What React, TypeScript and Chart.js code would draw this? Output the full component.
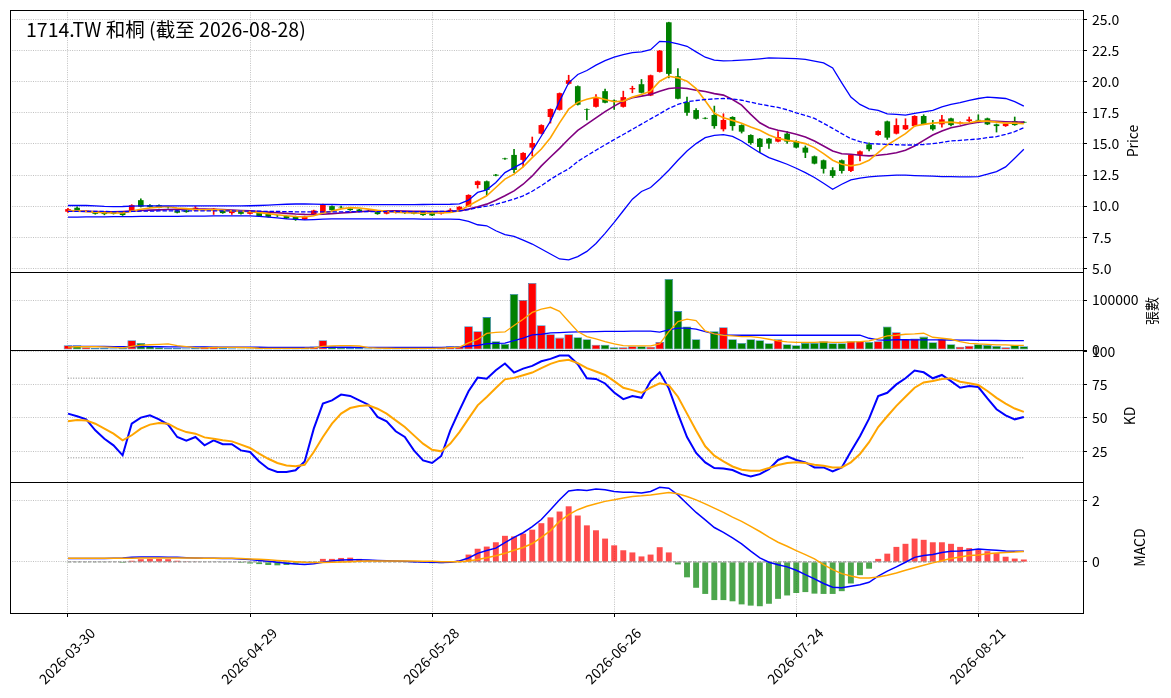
import React, { useEffect, useRef } from 'react';
import { Chart, registerables } from 'chart.js';

Chart.register(...registerables);

const FONT = "'Noto Sans CJK TC', 'Noto Sans', 'DejaVu Sans', sans-serif";
Chart.defaults.font.family = FONT;
Chart.defaults.font.size = 14;
Chart.defaults.color = '#000';

const W = 1171;
const H = 698;
const LEFT = 10;
const AXIS_W = 88;
const X_MIN = -6.37;
const X_MAX = 111.5;
const GRID = '#b0b0b0';
const RED = '#ff0000';
const GREEN = '#008000';

const TITLE = '1714.TW 和桐 (截至 2026-08-28)';
const TICK_INDEX = [0, 20, 40, 60, 80, 100];
const TICK_DATES = ['2026-03-30', '2026-04-29', '2026-05-28', '2026-06-26', '2026-07-24', '2026-08-21'];

const OPEN = [
  9.55, 9.87, 9.60, 9.55, 9.49, 9.52, 9.47, 9.60, 10.48, 10.08,
  10.08, 9.88, 9.65, 9.65, 9.65, 9.70, 9.65, 9.65, 9.44, 9.60,
  9.38, 9.47, 9.38, 9.22, 9.20, 9.17, 8.93, 9.33, 9.47, 10.00,
  9.94, 9.81, 9.73, 9.62, 9.52, 9.39, 9.50, 9.47, 9.52, 9.55,
  9.50, 9.38, 9.50, 9.70, 9.97, 11.70, 12.00, 12.53, 13.84, 14.12,
  13.72, 14.71, 15.83, 17.17, 17.75, 19.84, 19.65, 17.80, 17.99, 19.25,
  18.50, 17.99, 19.40, 19.81, 18.90, 20.80, 24.79, 20.45, 18.37, 17.73,
  17.10, 17.33, 16.18, 17.17, 16.52, 15.72, 15.43, 15.43, 15.19, 15.83,
  15.24, 14.71, 14.01, 13.69, 12.89, 13.69, 12.83, 14.12, 14.97, 15.72,
  16.82, 15.83, 16.18, 16.44, 17.25, 16.52, 16.58, 17.06, 16.66, 16.84,
  16.94, 17.06, 16.58, 16.44, 16.84, 16.78,
];
const HIGH = [
  9.82, 9.95, 9.66, 9.58, 9.52, 9.55, 9.50, 10.12, 10.59, 10.12,
  10.10, 9.92, 9.68, 9.67, 9.97, 9.74, 9.82, 9.68, 9.67, 9.62,
  9.62, 9.50, 9.40, 9.26, 9.22, 9.20, 9.19, 9.68, 10.16, 10.03,
  10.00, 9.84, 9.75, 9.66, 9.55, 9.57, 9.56, 9.50, 9.55, 9.58,
  9.52, 9.45, 9.80, 9.97, 10.92, 12.03, 12.03, 12.55, 13.86, 14.57,
  14.30, 15.56, 16.55, 17.83, 19.11, 20.53, 19.68, 17.82, 18.98, 19.41,
  18.55, 19.25, 19.65, 20.19, 20.55, 22.53, 24.80, 21.07, 18.77, 17.85,
  17.12, 18.05, 17.43, 17.20, 16.55, 15.75, 15.46, 15.46, 15.99, 15.99,
  15.27, 14.84, 14.04, 13.72, 13.10, 13.72, 14.15, 14.44, 15.10, 16.07,
  16.85, 17.03, 17.03, 17.28, 17.35, 16.90, 17.30, 17.09, 16.78, 17.17,
  17.35, 17.09, 16.61, 16.66, 17.17, 16.80,
];
const LOW = [
  9.50, 9.62, 9.56, 9.35, 9.30, 9.36, 9.25, 9.58, 9.93, 9.90,
  9.85, 9.83, 9.45, 9.50, 9.63, 9.66, 9.33, 9.42, 9.33, 9.36,
  9.36, 9.18, 9.12, 9.16, 8.99, 8.85, 8.91, 9.30, 9.45, 9.66,
  9.82, 9.66, 9.53, 9.55, 9.34, 9.37, 9.44, 9.40, 9.37, 9.26,
  9.23, 9.35, 9.48, 9.68, 9.95, 11.45, 10.90, 12.43, 13.76, 12.70,
  13.16, 14.04, 15.80, 16.68, 17.72, 19.80, 18.13, 16.93, 17.96, 18.30,
  17.78, 17.96, 19.12, 19.10, 18.88, 20.78, 20.32, 18.62, 17.30, 17.00,
  17.02, 16.26, 16.04, 16.10, 15.88, 14.97, 14.33, 14.65, 15.16, 15.05,
  14.68, 13.90, 13.39, 12.65, 12.30, 12.65, 12.78, 13.64, 14.44, 15.69,
  15.37, 15.80, 16.15, 16.41, 16.55, 16.10, 16.36, 16.45, 16.60, 16.80,
  16.72, 16.55, 15.96, 16.41, 16.50, 16.70,
];
const CLOSE = [
  9.76, 9.65, 9.63, 9.38, 9.36, 9.39, 9.28, 10.08, 9.95, 9.92,
  9.87, 9.86, 9.47, 9.52, 9.87, 9.72, 9.79, 9.44, 9.65, 9.38,
  9.60, 9.20, 9.14, 9.20, 9.01, 8.93, 9.17, 9.65, 10.13, 9.68,
  9.90, 9.68, 9.55, 9.60, 9.36, 9.55, 9.52, 9.45, 9.39, 9.28,
  9.25, 9.42, 9.70, 9.95, 10.90, 12.00, 11.30, 12.45, 13.78, 12.91,
  14.28, 15.08, 16.52, 17.81, 19.09, 20.13, 18.16, 17.75, 18.74, 18.32,
  18.42, 18.77, 19.50, 19.12, 20.53, 22.51, 20.64, 18.64, 17.51, 17.03,
  17.04, 16.44, 16.93, 16.44, 15.99, 15.08, 14.76, 15.03, 15.56, 15.19,
  14.71, 14.30, 13.42, 13.00, 12.43, 12.83, 14.12, 14.41, 14.57, 16.04,
  15.51, 16.52, 16.52, 17.25, 16.58, 16.18, 16.98, 16.52, 16.74, 16.98,
  16.88, 16.58, 16.44, 16.63, 16.52, 16.72,
];

const BB_UPPER = [
  10.05, 10.05, 10.05, 10.02, 9.98, 9.96, 9.97, 10.0, 10.02, 10.02,
  10.02, 10.02, 10.02, 10.02, 10.02, 10.02, 10.02, 10.02, 10.02, 10.02,
  10.03, 10.05, 10.08, 10.12, 10.15, 10.17, 10.17, 10.16, 10.14, 10.13,
  10.12, 10.12, 10.12, 10.12, 10.12, 10.12, 10.12, 10.12, 10.12, 10.13,
  10.14, 10.14, 10.15, 10.18, 10.48, 11.1, 11.31, 11.9, 12.7, 13.1,
  13.5, 14.44, 15.64, 16.84, 18.45, 19.92, 20.59, 20.91, 21.34, 21.71,
  21.98, 22.19, 22.35, 22.41, 22.59, 23.26, 23.21, 23.05, 22.86, 22.41,
  21.98, 21.75, 21.68, 21.7, 21.74, 21.79, 21.85, 21.92, 21.9, 21.88,
  21.87, 21.8, 21.66, 21.52, 21.12, 19.92, 18.77, 18.18, 17.83, 17.7,
  17.43, 17.38, 17.33, 17.46, 17.59, 17.7, 17.99, 18.18, 18.32, 18.5,
  18.66, 18.77, 18.72, 18.66, 18.4, 18.05,
];
const BB_MID = [
  9.57, 9.58, 9.58, 9.58, 9.57, 9.56, 9.56, 9.57, 9.59, 9.6,
  9.61, 9.62, 9.62, 9.62, 9.62, 9.62, 9.62, 9.61, 9.61, 9.6,
  9.6, 9.59, 9.58, 9.57, 9.56, 9.54, 9.53, 9.53, 9.53, 9.54,
  9.54, 9.55, 9.55, 9.55, 9.55, 9.55, 9.55, 9.55, 9.55, 9.56,
  9.56, 9.57, 9.58, 9.62, 9.72, 9.88, 10.0, 10.15, 10.35, 10.56,
  10.83, 11.2, 11.65, 12.15, 12.6, 13.0, 13.6, 14.05, 14.5, 14.93,
  15.35, 15.76, 16.18, 16.6, 17.02, 17.43, 17.86, 18.18, 18.4, 18.5,
  18.58, 18.63, 18.66, 18.62, 18.52, 18.36, 18.2, 18.07, 17.94, 17.75,
  17.51, 17.3, 17.06, 16.66, 16.26, 15.83, 15.43, 15.19, 15.03, 15.0,
  14.97, 14.94, 14.92, 14.92, 14.96, 15.03, 15.13, 15.24, 15.29, 15.35,
  15.4, 15.51, 15.59, 15.78, 15.99, 16.31,
];
const BB_LOWER = [
  9.12, 9.12, 9.13, 9.14, 9.14, 9.15, 9.16, 9.16, 9.17, 9.17,
  9.17, 9.18, 9.18, 9.19, 9.2, 9.2, 9.21, 9.21, 9.22, 9.22,
  9.22, 9.18, 9.12, 9.05, 8.98, 8.93, 8.9, 8.92, 8.95, 8.97,
  8.98, 8.98, 8.98, 8.98, 8.98, 8.98, 8.98, 8.97, 8.97, 8.96,
  8.96, 8.96, 8.96, 8.93, 8.77, 8.5, 8.42, 8.02, 7.7, 7.57,
  7.27, 6.95, 6.55, 6.15, 5.75, 5.67, 5.94, 6.36, 7.0, 7.81,
  8.69, 9.63, 10.56, 11.18, 11.5, 12.17, 12.89, 13.69, 14.44, 15.03,
  15.51, 15.7, 15.75, 15.61, 15.24, 14.76, 14.3, 13.9, 13.64, 13.37,
  13.05, 12.7, 12.3, 11.84, 11.36, 11.76, 12.11, 12.25, 12.35, 12.41,
  12.46, 12.49, 12.49, 12.46, 12.44, 12.41, 12.38, 12.38, 12.35, 12.35,
  12.38, 12.57, 12.78, 13.16, 13.85, 14.57,
];
const MA5 = [
  9.65, 9.62, 9.58, 9.52, 9.48, 9.45, 9.45, 9.6, 9.75, 9.85,
  9.92, 9.97, 9.85, 9.8, 9.72, 9.7, 9.72, 9.68, 9.62, 9.6,
  9.55, 9.48, 9.4, 9.3, 9.22, 9.16, 9.13, 9.22, 9.45, 9.6,
  9.78, 9.88, 9.85, 9.76, 9.66, 9.58, 9.52, 9.48, 9.45, 9.43,
  9.45, 9.45, 9.5, 9.62, 10.03, 10.43, 10.83, 11.5, 12.17, 12.57,
  13.16, 13.9, 14.6, 15.5, 16.7, 17.8, 18.35, 18.6, 18.77, 18.58,
  18.4, 18.45, 18.77, 18.98, 19.25, 20.05, 20.45, 20.32, 20.05, 19.45,
  18.48, 17.47, 17.11, 16.9, 16.66, 16.36, 16.1, 15.72, 15.45, 15.29,
  15.19, 15.03, 14.71, 14.22, 13.69, 13.37, 13.24, 13.37, 13.69, 14.3,
  14.92, 15.37, 15.83, 16.44, 16.58, 16.68, 16.74, 16.76, 16.68, 16.71,
  16.84, 16.84, 16.76, 16.68, 16.68, 16.63,
];
const MA10 = [
  9.62, 9.6, 9.58, 9.56, 9.55, 9.55, 9.57, 9.6, 9.65, 9.68,
  9.7, 9.73, 9.74, 9.75, 9.76, 9.76, 9.75, 9.72, 9.68, 9.65,
  9.62, 9.57, 9.52, 9.47, 9.42, 9.37, 9.34, 9.33, 9.35, 9.4,
  9.45, 9.5, 9.55, 9.6, 9.62, 9.63, 9.62, 9.6, 9.58, 9.58,
  9.57, 9.57, 9.58, 9.62, 9.76, 9.95, 10.16, 10.48, 10.83, 11.23,
  11.76, 12.43, 13.24, 13.95, 14.65, 15.4, 16.1, 16.6, 17.1, 17.6,
  18.05, 18.45, 18.72, 18.85, 18.98, 19.25, 19.47, 19.52, 19.47, 19.33,
  19.22, 19.05, 18.93, 18.58, 18.13, 17.38, 16.71, 16.31, 16.1, 15.96,
  15.78, 15.56, 15.24, 14.84, 14.44, 14.22, 14.17, 14.09, 14.04, 14.09,
  14.17, 14.3, 14.49, 14.84, 15.29, 15.72, 16.04, 16.31, 16.44, 16.63,
  16.76, 16.84, 16.82, 16.79, 16.77, 16.76,
];

const VOLUME = [
  9400, 9400, 5500, 4200, 3800, 3500, 4500, 19500, 14100, 7400,
  5600, 4000, 3800, 3300, 4200, 6800, 7200, 4000, 3600, 3200,
  3000, 3500, 3800, 2800, 3200, 3500, 4000, 7000, 19500, 7400,
  5000, 4200, 3800, 3500, 3200, 3000, 2800, 3000, 3300, 3500,
  4000, 5600, 7400, 7400, 47600, 37600, 65800, 17400, 12100, 112000,
  100000, 134000, 49700, 31500, 24800, 31500, 25500, 21500, 10700, 10700,
  5400, 5400, 7400, 7400, 6700, 16100, 142000, 77800, 47000, 21500,
  1500, 37600, 45600, 21500, 14100, 21500, 19500, 13400, 21500, 11400,
  9400, 14100, 14100, 17400, 13400, 13400, 17400, 17400, 16100, 17400,
  47000, 35600, 21500, 22800, 26800, 15400, 21500, 11400, 6700, 8700,
  11400, 10100, 8100, 5400, 10100, 7400,
];
const VOL_MA5 = [
  6000, 6500, 6800, 6500, 6400, 5300, 4300, 7300, 9500, 10500,
  11200, 12100, 8900, 6800, 4600, 4400, 5000, 5200, 5100, 5000,
  4500, 3500, 3400, 3200, 3300, 3400, 3500, 4300, 7400, 8300,
  8600, 8600, 8000, 4700, 3900, 3500, 3300, 3100, 3100, 3100,
  3300, 3900, 4800, 5600, 14400, 21100, 33200, 35200, 36100, 49000,
  61500, 75100, 81600, 85400, 77200, 57000, 36900, 26800, 22100, 16800,
  12100, 8700, 8100, 8100, 8100, 12100, 36900, 57000, 61700, 59000,
  38200, 32200, 29500, 28200, 26800, 26800, 24800, 21500, 18100, 16100,
  15400, 15400, 15400, 16100, 15400, 15400, 16100, 16800, 18100, 22800,
  28200, 29500, 31500, 32200, 33500, 25500, 23500, 21500, 16800, 13400,
  12100, 11400, 10100, 10100, 9400, 9400,
];
const VOL_MA20 = [
  7400, 7300, 7200, 7100, 7000, 6900, 6800, 6800, 6700, 6600,
  6500, 6400, 6300, 6200, 6100, 6000, 5900, 5800, 5800, 5700,
  5600, 5500, 5400, 5300, 5300, 5200, 5200, 5300, 5500, 5500,
  5500, 5500, 5400, 5300, 5200, 5200, 5100, 5100, 5100, 5200,
  5300, 5400, 5500, 5600, 7500, 9300, 12500, 13300, 13800, 19000,
  23800, 30200, 31500, 34200, 34900, 35600, 36200, 36200, 36900, 37200,
  37400, 37400, 37600, 37600, 37600, 35600, 40300, 43600, 43600, 41600,
  36900, 32200, 30200, 29500, 29500, 29500, 29500, 29500, 29500, 29500,
  29500, 29500, 29500, 29500, 29500, 29500, 29500, 29500, 23500, 20100,
  19500, 20800, 20500, 20300, 20100, 20100, 20100, 20000, 19800, 19600,
  19400, 19200, 19000, 18900, 18800, 18800,
];

const K = [
  53.3, 51.3, 49, 40.7, 34.4, 29.4, 21.9, 45.7, 50.3, 52,
  49, 45, 35.7, 32.9, 35.7, 29.4, 33.2, 30.2, 30.2, 25.6,
  24.4, 17.3, 11.8, 9.3, 9.3, 10.6, 17.3, 42, 60.8, 63.3,
  67.6, 66.6, 63.3, 60, 50.8, 47.5, 40, 35.7, 25.6, 18.1,
  16.1, 21.4, 40.7, 55.8, 70.1, 80.4, 79.6, 85.9, 91, 84.2,
  87.2, 89.2, 92.7, 94.5, 97, 97, 90.5, 79.9, 79.4, 76,
  69.2, 64.2, 66.5, 65.2, 77.8, 84.4, 72.3, 53.3, 35.6, 23.7,
  16.6, 12.3, 12, 10.8, 7.7, 5.9, 7.7, 11.5, 18.4, 21.1,
  18.4, 16.6, 12.8, 12.8, 9.7, 12.8, 24.7, 36.3, 49.5, 66.5,
  69, 75.3, 79.9, 85.7, 84.4, 79.9, 82.4, 77.8, 72.8, 74,
  73.3, 64.7, 56.6, 52, 49, 50.8,
];
const D = [
  47.5, 48.5, 48.2, 45.7, 42, 38.2, 33.2, 37, 42, 45,
  46.2, 45.7, 42, 39.4, 38.2, 35.4, 34.4, 33.2, 32.4, 29.9,
  27.4, 23.1, 19.3, 16.1, 14.3, 13.6, 14.8, 24.4, 35.7, 45.7,
  53.3, 57.5, 59, 59.5, 57, 53.3, 48.2, 43.2, 36.9, 30.7,
  26.1, 24.9, 30.7, 39.4, 49.5, 59.5, 65.8, 72.6, 79.1, 80.2,
  82.2, 84.2, 87.5, 90.8, 93, 93.8, 91.3, 87.5, 85, 82.4,
  77.8, 72.8, 71, 69, 72.8, 76.1, 74.8, 66, 53.3, 40.6,
  28.7, 21.6, 17.3, 13.5, 11, 10.3, 10.3, 12.3, 14.6, 16.1,
  16.6, 16.1, 14.8, 14.1, 12.8, 12.8, 16.6, 22.9, 31.8, 43.2,
  51.3, 59.1, 66, 72.8, 76.8, 77.8, 79.4, 79.9, 77.3, 76.1,
  74.8, 70.3, 65.2, 60.9, 57.1, 54.6,
];
const KD_REF = [80, 20];

const DIF = [
  0.11, 0.11, 0.11, 0.11, 0.11, 0.12, 0.13, 0.15, 0.16, 0.16,
  0.16, 0.15, 0.15, 0.14, 0.13, 0.12, 0.12, 0.11, 0.11, 0.1,
  0.08, 0.05, 0.02, -0.01, -0.04, -0.07, -0.08, -0.06, -0.01, 0.03,
  0.06, 0.07, 0.07, 0.06, 0.05, 0.04, 0.03, 0.02, 0.01, 0.0,
  -0.01, -0.02, -0.01, 0.03, 0.13, 0.28, 0.37, 0.45, 0.63, 0.8,
  0.95, 1.15, 1.38, 1.7, 2.02, 2.31, 2.35, 2.32, 2.37, 2.35,
  2.29, 2.27, 2.27, 2.24, 2.29, 2.43, 2.4, 2.18, 1.89, 1.61,
  1.37, 1.12, 0.96, 0.78, 0.59, 0.35, 0.13, -0.01, -0.09, -0.16,
  -0.27, -0.41, -0.55, -0.7, -0.82, -0.84, -0.79, -0.74, -0.66, -0.46,
  -0.3, -0.16, -0.01, 0.15, 0.21, 0.24, 0.31, 0.35, 0.36, 0.38,
  0.42, 0.4, 0.38, 0.36, 0.35, 0.35,
];
const SIGNAL = [
  0.12, 0.12, 0.12, 0.12, 0.12, 0.12, 0.12, 0.12, 0.13, 0.13,
  0.13, 0.13, 0.13, 0.13, 0.13, 0.12, 0.12, 0.12, 0.12, 0.11,
  0.1, 0.09, 0.07, 0.05, 0.03, 0.01, -0.01, -0.02, -0.02, -0.01,
  0.0, 0.01, 0.02, 0.03, 0.03, 0.03, 0.03, 0.03, 0.03, 0.02,
  0.02, 0.01, 0.01, 0.01, 0.03, 0.08, 0.14, 0.2, 0.28, 0.38,
  0.47, 0.6, 0.8, 1.02, 1.32, 1.54, 1.7, 1.81, 1.89, 1.97,
  2.02, 2.08, 2.13, 2.15, 2.18, 2.22, 2.26, 2.22, 2.13, 2.02,
  1.89, 1.75, 1.61, 1.46, 1.32, 1.16, 0.99, 0.81, 0.64, 0.51,
  0.37, 0.24, 0.1, -0.09, -0.25, -0.38, -0.46, -0.52, -0.52, -0.49,
  -0.43, -0.36, -0.27, -0.19, -0.11, -0.03, 0.04, 0.11, 0.16, 0.21,
  0.23, 0.27, 0.29, 0.31, 0.32, 0.34,
];
const HIST = [
  -0.01, -0.01, -0.01, -0.01, -0.01, 0.0, -0.03, 0.04, 0.09, 0.1,
  0.1, 0.09, 0.04, 0.02, 0.01, 0.0, 0.0, -0.01, -0.01, -0.03,
  -0.05, -0.07, -0.1, -0.11, -0.1, -0.07, -0.04, -0.01, 0.1, 0.1,
  0.13, 0.14, 0.1, 0.06, 0.04, 0.02, 0.0, -0.01, -0.02, -0.03,
  -0.04, -0.04, -0.03, 0.05, 0.24, 0.43, 0.5, 0.64, 0.85, 0.83,
  0.92, 1.05, 1.26, 1.45, 1.64, 1.81, 1.51, 1.19, 1.03, 0.76,
  0.54, 0.38, 0.31, 0.18, 0.24, 0.48, 0.31, -0.08, -0.5, -0.84,
  -1.04, -1.24, -1.24, -1.28, -1.38, -1.42, -1.44, -1.36, -1.2, -1.09,
  -1.01, -0.98, -1.03, -1.04, -1.04, -0.95, -0.7, -0.43, -0.22, 0.1,
  0.27, 0.49, 0.59, 0.76, 0.72, 0.64, 0.64, 0.59, 0.49, 0.45,
  0.42, 0.35, 0.29, 0.17, 0.11, 0.08,
];

const PRICE_PANEL = { top: 10, bottom: 272 };
const VOL_PANEL = { top: 272, bottom: 350 };
const KD_PANEL = { top: 350, bottom: 482 };
const MACD_PANEL = { top: 482, bottom: 613 };

const LAST = CLOSE.length - 1;
const pts = (arr: number[]) => arr.map((y, x) => ({ x, y }));
const flat = (v: number) => [{ x: 0, y: v }, { x: LAST, y: v }];
const candleColors = OPEN.map((o, i) => (CLOSE[i] >= o ? RED : GREEN));
const histColors = HIST.map((v) => (v >= 0 ? 'rgba(255,0,0,0.7)' : 'rgba(0,128,0,0.7)'));

const line = (data: any[], color: string, width: number, extra: any = {}) => ({
  type: 'line', data, borderColor: color, borderWidth: width, pointRadius: 0, tension: 0, fill: false, order: 1, ...extra,
});

const xScale = (last: boolean) => ({
  type: 'linear',
  min: X_MIN,
  max: X_MAX,
  offset: false,
  afterBuildTicks: (axis: any) => { axis.ticks = TICK_INDEX.map((value) => ({ value })); },
  afterFit: (axis: any) => {
    axis.height = last ? H - MACD_PANEL.bottom : 0;
    axis.paddingLeft = 0;
    axis.paddingRight = 0;
  },
  grid: { color: GRID, lineWidth: 0.8, drawTicks: last, tickLength: 4, tickColor: '#000', tickWidth: 1, offset: false },
  border: { display: false, dash: [1, 1.3] },
  ticks: { display: false },
});

const yScale = (min: number, max: number, ticks: number[], fmt: (v: number) => string) => ({
  type: 'linear',
  position: 'right',
  min,
  max,
  afterBuildTicks: (axis: any) => { axis.ticks = ticks.map((value) => ({ value })); },
  afterFit: (axis: any) => {
    axis.width = AXIS_W;
    axis.paddingTop = 0;
    axis.paddingBottom = 0;
  },
  grid: { color: GRID, lineWidth: 0.8, drawTicks: true, tickLength: 4, tickColor: '#000', tickWidth: 1 },
  border: { display: false, dash: [1, 1.3] },
  ticks: { padding: 5, color: '#000', font: { family: FONT, size: 14 }, callback: (v: any) => fmt(Number(v)) },
});

const decor = (label: string, labelX: number, title = false, dates = false) => ({
  id: 'decor',
  afterDraw(chart: any) {
    const { ctx, chartArea: a } = chart;
    ctx.save();
    ctx.strokeStyle = '#000';
    ctx.lineWidth = 1;
    ctx.setLineDash([]);
    ctx.strokeRect(Math.round(a.left) + 0.5, Math.round(a.top) + 0.5, Math.round(a.right - a.left), Math.round(a.bottom - a.top));
    ctx.fillStyle = '#000';
    ctx.font = `14px ${FONT}`;
    ctx.textAlign = 'center';
    ctx.textBaseline = 'middle';
    ctx.save();
    ctx.translate(labelX, (a.top + a.bottom) / 2);
    ctx.rotate(-Math.PI / 2);
    ctx.fillText(label, 0, 0);
    ctx.restore();
    if (dates) {
      const xs = chart.scales.x;
      TICK_INDEX.forEach((v, i) => {
        ctx.save();
        ctx.translate(xs.getPixelForValue(v) - 1, 656);
        ctx.rotate(-Math.PI / 4);
        ctx.fillText(TICK_DATES[i], 0, 0);
        ctx.restore();
      });
    }
    if (title) {
      ctx.font = `19.5px ${FONT}`;
      ctx.textAlign = 'left';
      ctx.textBaseline = 'alphabetic';
      ctx.fillText(TITLE, 26, 37);
    }
    ctx.restore();
  },
});

function build(canvas: HTMLCanvasElement, panel: { top: number; bottom: number }, datasets: any[], y: any, plugin: any, last = false) {
  return new Chart(canvas, {
    type: 'line',
    data: { datasets },
    options: {
      responsive: false,
      maintainAspectRatio: false,
      animation: false,
      events: [],
      layout: { padding: { left: LEFT, right: 0, top: panel.top, bottom: last ? 0 : H - panel.bottom } },
      plugins: { legend: { display: false }, tooltip: { enabled: false } },
      scales: { x: xScale(last), y },
    },
    plugins: [plugin],
  } as any);
}

export default function App() {
  const priceRef = useRef<HTMLCanvasElement>(null);
  const volRef = useRef<HTMLCanvasElement>(null);
  const kdRef = useRef<HTMLCanvasElement>(null);
  const macdRef = useRef<HTMLCanvasElement>(null);

  useEffect(() => {
    if (!priceRef.current || !volRef.current || !kdRef.current || !macdRef.current) return;
    const charts: Chart[] = [];

    charts.push(build(priceRef.current, PRICE_PANEL, [
      line(pts(BB_UPPER), 'blue', 1.3),
      line(pts(BB_MID), 'blue', 1.3, { borderDash: [4.4, 1.9] }),
      line(pts(BB_LOWER), 'blue', 1.3),
      line(pts(MA5), 'orange', 1.6),
      line(pts(MA10), 'purple', 1.6),
      {
        type: 'bar', data: LOW.map((l, i) => ({ x: i, y: [l, HIGH[i]] })),
        backgroundColor: candleColors, barThickness: 1, grouped: false, order: 3,
      },
      {
        type: 'bar', data: OPEN.map((o, i) => ({ x: i, y: [o, CLOSE[i]] })),
        backgroundColor: candleColors, barPercentage: 0.62, categoryPercentage: 1, grouped: false, order: 2,
      },
    ], yScale(4.7, 25.78, [5, 7.5, 10, 12.5, 15, 17.5, 20, 22.5, 25], (v) => v.toFixed(1)),
    decor('Price', 1133, true)));

    charts.push(build(volRef.current, VOL_PANEL, [
      {
        type: 'bar', data: pts(VOLUME), backgroundColor: candleColors,
        borderColor: 'rgba(31,119,180,0.85)', borderWidth: 0.8, borderSkipped: false,
        barPercentage: 0.95, categoryPercentage: 1, grouped: false, order: 2,
      },
      line(pts(VOL_MA5), 'orange', 1.3),
      line(pts(VOL_MA20), 'blue', 1.3),
    ], yScale(0, 156000, [0, 100000], (v) => String(v)),
    decor('張數', 1152)));

    charts.push(build(kdRef.current, KD_PANEL, [
      line(flat(KD_REF[0]), '#808080', 1, { borderDash: [1, 1.6], order: 3 }),
      line(flat(KD_REF[1]), '#808080', 1, { borderDash: [1, 1.6], order: 3 }),
      line(pts(K), 'blue', 2, { order: 2 }),
      line(pts(D), 'orange', 2, { order: 1 }),
    ], yScale(1.8, 101.2, [25, 50, 75, 100], (v) => String(v)),
    decor('KD', 1130)));

    charts.push(build(macdRef.current, MACD_PANEL, [
      {
        type: 'bar', data: pts(HIST), backgroundColor: histColors,
        barPercentage: 0.65, categoryPercentage: 1, grouped: false, order: 4,
      },
      line(flat(0), '#808080', 1, { borderDash: [3.5, 1.5], order: 3 }),
      line(pts(DIF), 'blue', 1.5, { order: 2 }),
      line(pts(SIGNAL), 'orange', 1.5, { order: 1 }),
    ], yScale(-1.66, 2.6, [0, 2], (v) => String(v)),
    decor('MACD', 1140, false, true), true));

    return () => { charts.forEach((c) => c.destroy()); };
  }, []);

  const canvasStyle: React.CSSProperties = { position: 'absolute', left: 0, top: 0 };
  return (
    <div style={{ position: 'fixed', left: 0, top: 0, width: W, height: H, background: '#fff' }}>
      <canvas ref={priceRef} width={W} height={H} style={canvasStyle} />
      <canvas ref={volRef} width={W} height={H} style={canvasStyle} />
      <canvas ref={kdRef} width={W} height={H} style={canvasStyle} />
      <canvas ref={macdRef} width={W} height={H} style={canvasStyle} />
    </div>
  );
}
